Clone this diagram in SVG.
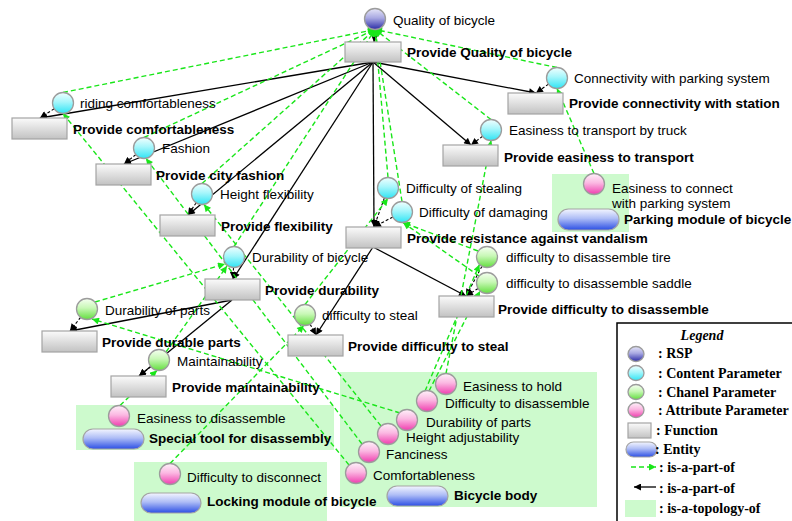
<svg xmlns="http://www.w3.org/2000/svg" width="792" height="521" viewBox="0 0 792 521">
<defs>
  <linearGradient id="gRsp" x1="0" y1="0" x2="0" y2="1">
    <stop offset="0" stop-color="#e6e6f8"/><stop offset="0.45" stop-color="#a9a9e2"/><stop offset="1" stop-color="#2a2aa6"/>
  </linearGradient>
  <linearGradient id="gCon" x1="0" y1="0" x2="0" y2="1">
    <stop offset="0" stop-color="#f2ffff"/><stop offset="0.45" stop-color="#a6f6fb"/><stop offset="1" stop-color="#2ee4f4"/>
  </linearGradient>
  <linearGradient id="gCha" x1="0" y1="0" x2="0" y2="1">
    <stop offset="0" stop-color="#f6fff2"/><stop offset="0.45" stop-color="#c8f8b6"/><stop offset="1" stop-color="#62de3e"/>
  </linearGradient>
  <linearGradient id="gAtt" x1="0" y1="0" x2="0" y2="1">
    <stop offset="0" stop-color="#fff2fa"/><stop offset="0.45" stop-color="#fbb8e2"/><stop offset="1" stop-color="#ef3cae"/>
  </linearGradient>
  <linearGradient id="gFun" x1="0" y1="0" x2="0" y2="1">
    <stop offset="0" stop-color="#fbfbfb"/><stop offset="1" stop-color="#c2c2c2"/>
  </linearGradient>
  <linearGradient id="gEnt" x1="0" y1="0" x2="0" y2="1">
    <stop offset="0" stop-color="#f4f6ff"/><stop offset="0.45" stop-color="#aebdf6"/><stop offset="1" stop-color="#2c4fe4"/>
  </linearGradient>
  <marker id="ab" viewBox="0 0 10 10" refX="10" refY="5" markerWidth="8" markerHeight="7" orient="auto" markerUnits="userSpaceOnUse">
    <path d="M0,0 L10,5 L0,10 z" fill="#000"/>
  </marker>
  <marker id="ag" viewBox="0 0 10 10" refX="10" refY="5" markerWidth="8" markerHeight="7" orient="auto" markerUnits="userSpaceOnUse">
    <path d="M0,0 L10,5 L0,10 z" fill="#19e619"/>
  </marker>
</defs>
<style>
  .t{font-family:"Liberation Sans",Arial,sans-serif;font-size:13.5px;fill:#000}
  .b{font-weight:bold}
  .lg{font-family:"Liberation Serif","Times New Roman",serif;font-size:14px;font-weight:bold;fill:#000}
  .rsp{fill:url(#gRsp);stroke:#9c9c9c;stroke-width:1.3}
  .con{fill:url(#gCon);stroke:#9c9c9c;stroke-width:1.3}
  .cha{fill:url(#gCha);stroke:#9c9c9c;stroke-width:1.3}
  .att{fill:url(#gAtt);stroke:#9c9c9c;stroke-width:1.3}
  .fn{fill:url(#gFun);stroke:#a4a4a4;stroke-width:1.2}
  .ent{fill:url(#gEnt);stroke:#a4a4a4;stroke-width:1.2}
  .topo{fill:#cdfacd}
  .sol{stroke:#000;stroke-width:1.3;fill:none;marker-end:url(#ab)}
  .dsh{stroke:#000;stroke-width:1.1;stroke-dasharray:3 2;fill:none;marker-end:url(#ab)}
  .prt{stroke:#19e619;stroke-width:1.4;stroke-dasharray:5 3;fill:none;marker-end:url(#ag)}
</style>

<!-- topology regions (background) -->
<g id="topologies">
  <rect class="topo" x="552" y="174" width="77" height="58"/>
  <rect class="topo" x="76" y="405" width="258" height="45"/>
  <rect class="topo" x="134" y="462" width="193" height="59"/>
  <rect class="topo" x="340" y="372" width="257" height="135"/>
</g>

<g id="connectors">
  <!-- function decomposition -->
  <line class="sol" x1="373" y1="62" x2="40" y2="118"/>
  <line class="sol" x1="373" y1="62" x2="124" y2="164"/>
  <line class="sol" x1="373" y1="62" x2="188" y2="215"/>
  <line class="sol" x1="373" y1="62" x2="233" y2="279"/>
  <line class="sol" x1="373" y1="62" x2="374" y2="227"/>
  <line class="sol" x1="373" y1="62" x2="471" y2="145"/>
  <line class="sol" x1="373" y1="62" x2="536" y2="93"/>
  <line class="sol" x1="373" y1="247" x2="466" y2="296"/>
  <line class="sol" x1="373" y1="247" x2="316" y2="335"/>
  <line class="sol" x1="232" y1="300" x2="70" y2="331"/>
  <line class="sol" x1="232" y1="300" x2="139" y2="376"/>
  <!-- parameter to function -->
  <line class="dsh" x1="375" y1="29.5" x2="374" y2="42"/>
  <line class="dsh" x1="54.2" y1="108.7" x2="40" y2="118"/>
  <line class="dsh" x1="135.8" y1="154.6" x2="124" y2="164"/>
  <line class="dsh" x1="196.2" y1="202.7" x2="188" y2="215"/>
  <line class="dsh" x1="233.5" y1="267.5" x2="233" y2="279"/>
  <line class="dsh" x1="548.5" y1="84.1" x2="536" y2="93"/>
  <line class="dsh" x1="482.6" y1="136.3" x2="471" y2="145"/>
  <line class="dsh" x1="384.4" y1="197.9" x2="374" y2="227"/>
  <line class="dsh" x1="392.8" y1="217" x2="374" y2="227"/>
  <line class="dsh" x1="482" y1="266.2" x2="466" y2="296"/>
  <line class="dsh" x1="478.1" y1="288.5" x2="466" y2="296"/>
  <line class="dsh" x1="310.1" y1="324.2" x2="316" y2="335"/>
  <line class="dsh" x1="80.6" y1="317.3" x2="70" y2="331"/>
  <line class="dsh" x1="150.8" y1="366.6" x2="139" y2="376"/>
  <!-- content parameters into RSP -->
  <line class="prt" x1="63" y1="92.5" x2="375" y2="29.5"/>
  <line class="prt" x1="144" y1="137.5" x2="375" y2="29.5"/>
  <line class="prt" x1="202" y1="183.5" x2="375" y2="29.5"/>
  <line class="prt" x1="234" y1="246.5" x2="375" y2="29.5"/>
  <line class="prt" x1="557" y1="67.5" x2="375" y2="29.5"/>
  <line class="prt" x1="491" y1="119.5" x2="375" y2="29.5"/>
  <line class="prt" x1="388" y1="177.5" x2="375" y2="29.5"/>
  <line class="prt" x1="402" y1="201.5" x2="375" y2="29.5"/>
  <!-- channel parameters into content parameters -->
  <line class="prt" x1="95" y1="302" x2="225" y2="264"/>
  <line class="prt" x1="166" y1="352" x2="227" y2="266"/>
  <line class="prt" x1="305" y1="304.5" x2="388" y2="198.5"/>
  <line class="prt" x1="478" y1="251" x2="403" y2="222.5"/>
  <line class="prt" x1="479" y1="276" x2="403" y2="222.5"/>
  <!-- attribute parameters into channel / content parameters -->
  <line class="prt" x1="594" y1="173.5" x2="557" y2="88.5"/>
  <line class="prt" x1="120" y1="405.5" x2="157" y2="370.5"/>
  <line class="prt" x1="170" y1="463.5" x2="304" y2="325.5"/>
  <line class="prt" x1="446" y1="373.5" x2="491" y2="140.5"/>
  <line class="prt" x1="425" y1="391" x2="479.5" y2="264.5"/>
  <line class="prt" x1="429" y1="391" x2="480" y2="291"/>
  <line class="prt" x1="400" y1="413" x2="92" y2="319"/>
  <line class="prt" x1="381" y1="426" x2="204" y2="204.5"/>
  <line class="prt" x1="362" y1="444" x2="146" y2="158.5"/>
  <line class="prt" x1="349" y1="465" x2="63" y2="113.5"/>
</g>

<!-- RSP and functions -->
<g id="rsp-quality"><circle class="rsp" cx="375" cy="19" r="10.5"/><text class="t" x="393" y="25">Quality of bicycle</text></g>
<g id="fn-quality"><rect class="fn" x="345" y="42" width="56" height="20"/><text class="t b" x="407" y="57">Provide Quality of bicycle</text></g>

<g id="cp-riding"><circle class="con" cx="63" cy="103" r="10.5"/><text class="t" x="80" y="108">riding comfortableness</text></g>
<g id="fn-comfort"><rect class="fn" x="12" y="118" width="55" height="21"/><text class="t b" x="73" y="134">Provide comfortableness</text></g>

<g id="cp-fashion"><circle class="con" cx="144" cy="148" r="10.5"/><text class="t" x="162" y="153">Fashion</text></g>
<g id="fn-fashion"><rect class="fn" x="96" y="164" width="55" height="21"/><text class="t b" x="156" y="180">Provide city fashion</text></g>

<g id="cp-height"><circle class="con" cx="202" cy="194" r="10.5"/><text class="t" x="220" y="199">Height flexibility</text></g>
<g id="fn-flex"><rect class="fn" x="160" y="215" width="55" height="21"/><text class="t b" x="221" y="231">Provide flexibility</text></g>

<g id="cp-durability"><circle class="con" cx="234" cy="257" r="10.5"/><text class="t" x="252" y="262">Durability of bicycle</text></g>
<g id="fn-durability"><rect class="fn" x="205" y="279" width="55" height="21"/><text class="t b" x="265" y="295">Provide durability</text></g>

<g id="cp-connect"><circle class="con" cx="557" cy="78" r="10.5"/><text class="t" x="574" y="83">Connectivity with parking system</text></g>
<g id="fn-connect"><rect class="fn" x="508" y="93" width="55" height="21"/><text class="t b" x="569" y="108">Provide connectivity with station</text></g>

<g id="cp-transport"><circle class="con" cx="491" cy="130" r="10.5"/><text class="t" x="509" y="135">Easiness to transport by truck</text></g>
<g id="fn-transport"><rect class="fn" x="443" y="145" width="55" height="21"/><text class="t b" x="504" y="162">Provide easiness to transport</text></g>

<g id="cp-stealing"><circle class="con" cx="388" cy="188" r="10.5"/><text class="t" x="406" y="193">Difficulty of stealing</text></g>
<g id="cp-damaging"><circle class="con" cx="402" cy="212" r="10.5"/><text class="t" x="419" y="217">Difficulty of damaging</text></g>
<g id="fn-resistance"><rect class="fn" x="346" y="227" width="55" height="21"/><text class="t b" x="407" y="243">Provide resistance against vandalism</text></g>

<g id="ch-tire"><circle class="cha" cx="487" cy="257" r="10.5"/><text class="t" x="506" y="262">difficulty to disassemble tire</text></g>
<g id="ch-saddle"><circle class="cha" cx="487" cy="283" r="10.5"/><text class="t" x="506" y="288">difficulty to disassemble saddle</text></g>
<g id="fn-disassemble"><rect class="fn" x="439" y="296" width="55" height="21"/><text class="t b" x="498" y="314">Provide difficulty to disassemble</text></g>

<g id="ch-steal"><circle class="cha" cx="305" cy="315" r="10.5"/><text class="t" x="322" y="320">difficulty to steal</text></g>
<g id="fn-steal"><rect class="fn" x="288" y="335" width="55" height="21"/><text class="t b" x="348" y="351">Provide difficulty to steal</text></g>

<g id="ch-parts"><circle class="cha" cx="87" cy="309" r="10.5"/><text class="t" x="105" y="315">Durability of parts</text></g>
<g id="fn-parts"><rect class="fn" x="42" y="331" width="55" height="21"/><text class="t b" x="102" y="347">Provide durable parts</text></g>

<g id="ch-maint"><circle class="cha" cx="159" cy="360" r="10.5"/><text class="t" x="177" y="366">Maintainability</text></g>
<g id="fn-maint"><rect class="fn" x="111" y="376" width="55" height="21"/><text class="t b" x="172" y="392">Provide maintainability</text></g>

<!-- parking module -->
<g id="at-connect"><circle class="att" cx="594" cy="184" r="10.5"/><text class="t" x="612" y="193">Easiness to connect</text><text class="t" x="612" y="208">with parking system</text></g>
<g id="en-parking"><rect class="ent" x="558" y="209" width="61" height="21" rx="10.5"/><text class="t b" x="624" y="224">Parking module of bicycle</text></g>

<!-- special tool -->
<g id="at-disassemble"><circle class="att" cx="119" cy="416" r="10.5"/><text class="t" x="137" y="423">Easiness to disassemble</text></g>
<g id="en-tool"><rect class="ent" x="83" y="429" width="61" height="20" rx="10"/><text class="t b" x="149" y="443">Special tool for disassembly</text></g>

<!-- locking module -->
<g id="at-disconnect"><circle class="att" cx="170" cy="474" r="10.5"/><text class="t" x="187" y="482">Difficulty to disconnect</text></g>
<g id="en-locking"><rect class="ent" x="141" y="493" width="60" height="20" rx="10"/><text class="t b" x="207" y="506">Locking module of bicycle</text></g>

<!-- bicycle body -->
<g id="at-hold"><circle class="att" cx="446" cy="384" r="10.5"/><text class="t" x="463" y="391">Easiness to hold</text></g>
<g id="at-dis2"><circle class="att" cx="427" cy="401" r="10.5"/><text class="t" x="445" y="408">Difficulty to disassemble</text></g>
<g id="at-parts"><circle class="att" cx="407" cy="420" r="10.5"/><text class="t" x="426" y="427">Durability of parts</text></g>
<g id="at-height"><circle class="att" cx="388" cy="434" r="10.5"/><text class="t" x="406" y="442">Height adjustability</text></g>
<g id="at-fancy"><circle class="att" cx="369" cy="452" r="10.5"/><text class="t" x="386" y="459">Fanciness</text></g>
<g id="at-comfort"><circle class="att" cx="356" cy="473" r="10.5"/><text class="t" x="373" y="480">Comfortableness</text></g>
<g id="en-body"><rect class="ent" x="387" y="486" width="61" height="20" rx="10"/><text class="t b" x="454" y="500">Bicycle body</text></g>

<!-- legend -->
<g id="legend">
  <rect x="617" y="323" width="180" height="205" fill="#fff" stroke="#000" stroke-width="1.5"/>
  <text x="702" y="340" text-anchor="middle" style="font-family:'Liberation Serif','Times New Roman',serif;font-size:14px;font-style:italic;font-weight:bold">Legend</text>
  <ellipse class="rsp" cx="636" cy="354" rx="8" ry="7.5"/><text class="lg" x="658" y="358">: RSP</text>
  <ellipse class="con" cx="636" cy="373" rx="8" ry="7.5"/><text class="lg" x="658" y="378">: Content Parameter</text>
  <ellipse class="cha" cx="636" cy="392" rx="8" ry="7.5"/><text class="lg" x="658" y="397">: Chanel Parameter</text>
  <ellipse class="att" cx="636" cy="410" rx="8" ry="7.5"/><text class="lg" x="658" y="415">: Attribute Parameter</text>
  <rect class="fn" x="628" y="423" width="23" height="15"/><text class="lg" x="656" y="435">: Function</text>
  <rect class="ent" x="626" y="442" width="31" height="15" rx="7.5"/><text class="lg" x="655" y="454">: Entity</text>
  <line class="prt" x1="631" y1="467" x2="656" y2="467"/><text class="lg" x="659" y="472">: is-a-part-of</text>
  <line class="sol" x1="656" y1="487" x2="634" y2="487"/><text class="lg" x="659" y="493">: is-a-part-of</text>
  <rect class="topo" x="625" y="500" width="31" height="17"/><text class="lg" x="659" y="513">: is-a-topology-of</text>
</g>
</svg>
